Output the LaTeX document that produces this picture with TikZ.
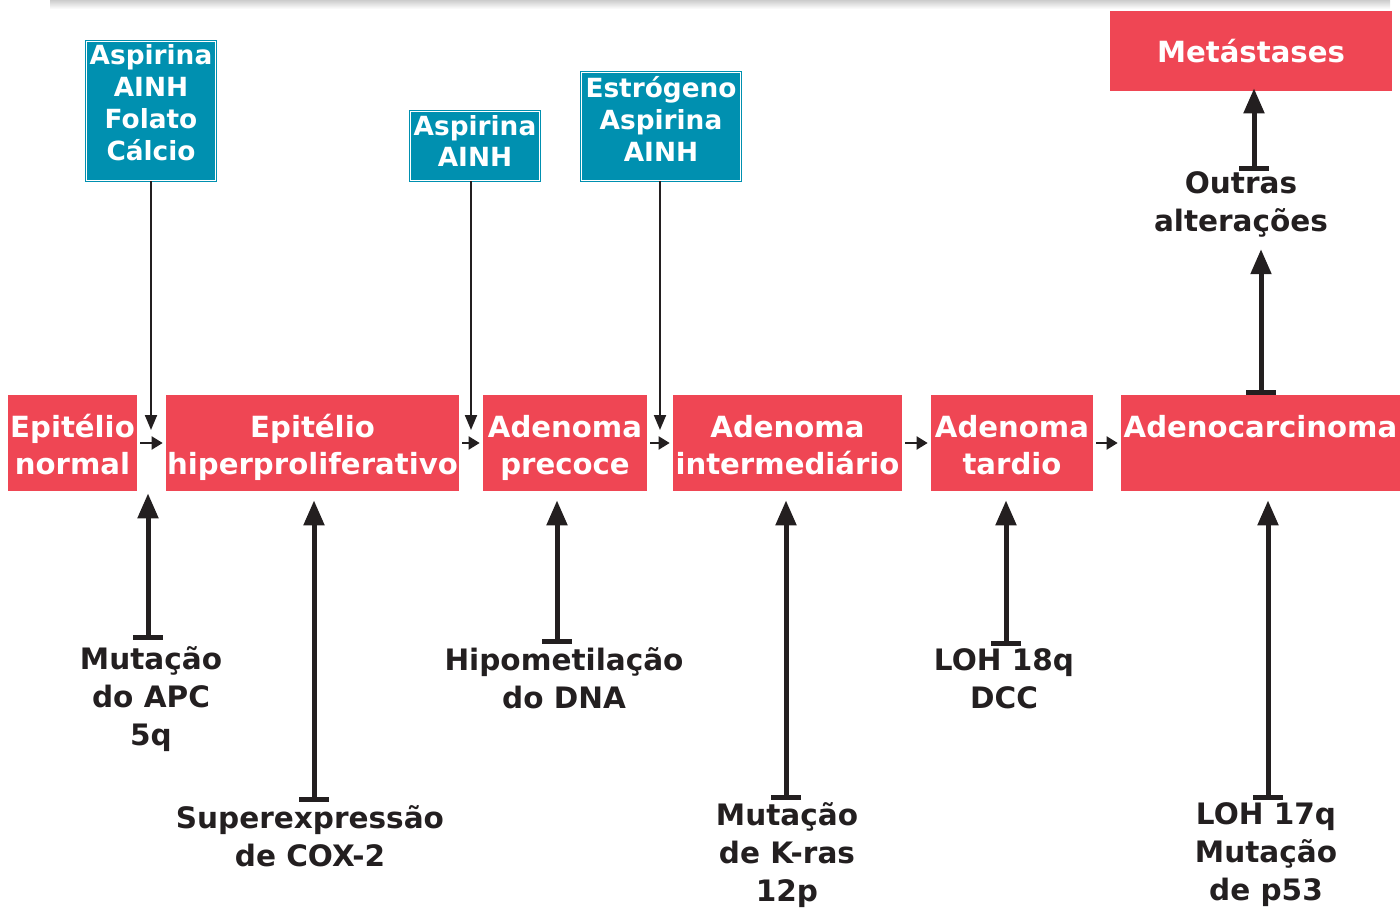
\documentclass[tikz,border=0pt]{standalone}
\usepackage{fontspec}
\setmainfont{DejaVu Sans}
\usepackage{tikz}
\usetikzlibrary{arrows.meta,positioning}
\definecolor{tumred}{HTML}{EF4654}
\definecolor{drugblue}{HTML}{0090B0}
\definecolor{inkdark}{HTML}{231F20}
\newcommand{\stagelines}[2]{\rule{0pt}{20.8pt}#1\\#2\rule[-6pt]{0pt}{6pt}}

\begin{document}
\begin{tikzpicture}
    [
      x = 0.02cm, y = -0.02cm,
      stage/.style = {fill=tumred, text=white, inner sep=0pt, align=center,
                      font=\bfseries\fontsize{16.6}{21.6}\selectfont, minimum height=1.92cm},
      drug/.style = {fill=drugblue, draw=drugblue, double=white, double distance=0.02cm,
                     line width=0.02cm, inner sep=0pt},
      drugtext/.style = {text=white, inner sep=0pt, align=center,
                         font=\bfseries\fontsize{15}{18.2}\selectfont},
      event/.style = {text=inkdark, inner sep=0pt, align=center,
                      font=\bfseries\fontsize{16.8}{21.6}\selectfont},
      nextarr/.style = {draw=inkdark, line width=0.04cm, -{Triangle[width=0.26cm,length=0.22cm]},
                        shorten <=0.06cm, shorten >=0.06cm},
      druglink/.style = {draw=inkdark, line width=0.04cm, -{Triangle[width=0.24cm,length=0.3cm]}},
      hit/.style = {draw=inkdark, line width=0.1cm, {Bar[width=0.6cm]}-{Triangle[width=0.4cm,length=0.5cm]},
                    shorten <=0.05cm, shorten >=0.18cm},
    ]

    \useasboundingbox (0,0) rectangle (1400,908);
    \shade[top color=black!20, bottom color=white] (50,0) rectangle (1390,9);

    % stages
    \node[stage, minimum width=2.58cm] (normal) at (72.5,443) {\stagelines{Epitélio}{normal}};
    \node[stage, minimum width=5.86cm] (hiper) at (312.5,443) {\stagelines{Epitélio}{hiperproliferativo}};
    \node[stage, minimum width=3.28cm] (precoce) at (565,443) {\stagelines{Adenoma}{precoce}};
    \node[stage, minimum width=4.58cm] (inter) at (787.5,443) {\stagelines{Adenoma}{intermediário}};
    \node[stage, minimum width=3.24cm] (tardio) at (1012,443) {\stagelines{Adenoma}{tardio}};
    \node[stage, minimum width=5.58cm] (carc) at (1260.5,443) {\stagelines{Adenocarcinoma}{}};
    \node[stage, minimum width=5.64cm, minimum height=1.6cm] (meta) at (1251,51) {Metástases};

    \draw[nextarr] (normal) -- (hiper);
    \draw[nextarr] (hiper) -- (precoce);
    \draw[nextarr] (precoce) -- (inter);
    \draw[nextarr] (inter) -- (tardio);
    \draw[nextarr] (tardio) -- (carc);

    % protective factors
    \node[drug, minimum width=2.6cm, minimum height=2.8cm] (drugA) at (151,111) {};
    \node[drugtext] (drugAtxt) at ([yshift=0.16cm]drugA.center) {Aspirina\\AINH\\Folato\\Cálcio};
    \node[drug, minimum width=2.6cm, minimum height=1.4cm] (drugB) at (475,146) {};
    \node[drugtext] (drugBtxt) at ([yshift=0.1cm]drugB.center) {Aspirina\\AINH};
    \node[drug, minimum width=3.2cm, minimum height=2.18cm] (drugC) at (661,126.5) {};
    \node[drugtext] (drugCtxt) at ([yshift=0.16cm]drugC.center) {Estrógeno\\Aspirina\\AINH};

    \coordinate (dA) at (151,430);
    \coordinate (dB) at (471,430);
    \coordinate (dC) at (660,430);
    \draw[druglink] (drugA.south -| dA) -- (dA);
    \draw[druglink] (drugB.south -| dB) -- (dB);
    \draw[druglink] (drugC.south -| dC) -- (dC);

    % genetic events
    \node[event] (apc) at (151,699) {Mutação\\do APC\\5q};
    \node[event] (cox) at (310,836) {Superexpressão\\de COX-2};
    \node[event] (dna) at (564,678) {Hipometilação\\do DNA};
    \node[event] (kras) at (787,855) {Mutação\\de K-ras\\12p};
    \node[event] (dcc) at (1004,679) {LOH 18q\\DCC};
    \node[event] (p53) at (1266,855) {LOH 17q\\Mutação\\de p53};
    \node[event] (outras) at (1241,204) {Outras\\alterações};

    \coordinate (xapc) at (148,0);
    \coordinate (xcox) at (314,0);
    \coordinate (xdna) at (557,0);
    \coordinate (xkras) at (786,0);
    \coordinate (xdcc) at (1006,0);
    \coordinate (xp53) at (1268,0);
    \coordinate (xout) at (1261,0);
    \coordinate (xmeta) at (1254,0);

    \draw[hit, shorten <=0.12cm, shorten >=0.04cm] (apc.north -| xapc) -- (normal.south -| xapc);
    \draw[hit] (cox.north -| xcox) -- (hiper.south -| xcox);
    \draw[hit] (dna.north -| xdna) -- (precoce.south -| xdna);
    \draw[hit] (kras.north -| xkras) -- (inter.south -| xkras);
    \draw[hit] (dcc.north -| xdcc) -- (tardio.south -| xdcc);
    \draw[hit] (p53.north -| xp53) -- (carc.south -| xp53);
    \draw[hit, shorten <=0cm, shorten >=0.24cm] (carc.north -| xout) -- (outras.south -| xout);
    \draw[hit, shorten <=0cm, shorten >=-0.06cm] (outras.north -| xmeta) -- (meta.south -| xmeta);
\end{tikzpicture}
\end{document}
